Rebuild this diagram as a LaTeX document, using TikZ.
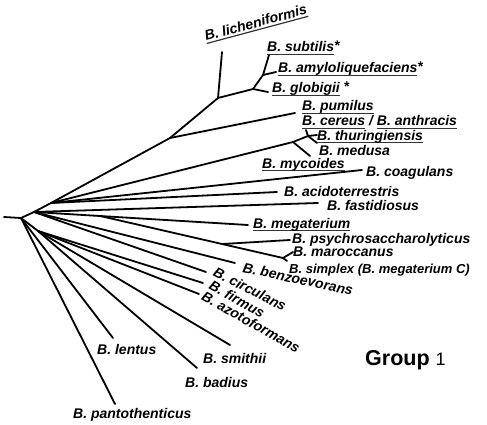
\documentclass[tikz,border=0pt]{standalone}
\usepackage{fontspec}
\setmainfont{Liberation Sans}
\usetikzlibrary{calc}
\newsavebox\ulbox
\newcommand\ulx[1]{\sbox\ulbox{#1}\rlap{\raisebox{-3.2pt}{\color{black!80}\rule{\wd\ulbox}{1.2pt}}}\usebox\ulbox}
\begin{document}
\begin{tikzpicture}[x=1pt,y=-1pt,
  br/.style={line width=1.8pt, line cap=round, line join=round},
  lab/.style={font=\fontsize{14}{16}\selectfont\bfseries\itshape, inner sep=0pt, anchor=base west},
  rlab/.style={font=\fontsize{14}{16}\selectfont\bfseries\itshape, inner sep=0pt, anchor=center}]
\useasboundingbox (0,0) rectangle (487,425);
% internal nodes
\coordinate (S) at (4,217);
\coordinate (R) at (21,218);
\coordinate (M) at (34,212);
\coordinate (G) at (51,203);
\coordinate (H) at (38,231);
\coordinate (F) at (170,138);
\coordinate (A) at (218,98);
\coordinate (Bn) at (253,89);
\coordinate (C) at (263,75);
\coordinate (E) at (293,142);
\coordinate (D) at (308,136);
\coordinate (MR) at (283,258);
% leaves
\coordinate (lich) at (222,52);
\coordinate (subt) at (269,55);
\coordinate (amylo) at (276,72);
\coordinate (glob) at (268,92);
\coordinate (pum) at (295,113);
\coordinate (cer) at (306,130);
\coordinate (thu) at (317,135);
\coordinate (med) at (317,143);
\coordinate (myc) at (310,156);
\coordinate (coag) at (362,170);
\coordinate (acido) at (277,192);
\coordinate (fast) at (318,203);
\coordinate (mega) at (248,225);
\coordinate (N1) at ($(M)!0.31!(mega)$);
\coordinate (P) at ($(N1)!0.667!(MR)$);
\coordinate (psy) at (290,240);
\coordinate (maro) at (293,252);
\coordinate (simp) at (287,261);
\coordinate (benzo) at (235,263);
\coordinate (circ) at (206,272);
\coordinate (firm) at (203,283);
\coordinate (azo) at (199,294);
\coordinate (smith) at (230,345);
\coordinate (badius) at (197,368);
\coordinate (lentus) at (113,338);
\coordinate (panto) at (115,404);
% branches
\draw[br] (S) -- (R);
\draw[br] (R) -- (M);
\draw[br] (M) -- (G);
\draw[br] (G) -- (F);
\draw[br] (F) -- (A);
\draw[br] (A) -- (lich);
\draw[br] (A) -- (Bn);
\draw[br] (Bn) -- (C);
\draw[br] (C) -- (subt);
\draw[br] (C) -- (amylo);
\draw[br] (Bn) -- (glob);
\draw[br] (F) -- (pum);
\draw[br] (G) -- (E);
\draw[br] (E) -- (D);
\draw[br] (D) -- (cer);
\draw[br] (D) -- (thu);
\draw[br] (D) -- (med);
\draw[br] (E) -- (myc);
\draw[br] (G) -- (coag);
\draw[br] (G) -- (acido);
\draw[br] (M) -- (fast);
\draw[br] (M) -- (N1);
\draw[br] (N1) -- (mega);
\draw[br] (N1) -- (MR);
\draw[br] (P) -- (psy);
\draw[br] (MR) -- (maro);
\draw[br] (MR) -- (simp);
\draw[br] (M) -- (benzo);
\draw[br] (M) -- (circ);
\draw[br] (R) -- (H);
\draw[br] (H) -- (firm);
\draw[br] (H) -- (azo);
\draw[br] (H) -- (smith);
\draw[br] (H) -- (badius);
\draw[br] (R) -- (lentus);
\draw[br] (R) -- (panto);
% labels
\node[rlab, rotate=15] (Llich) at (256,24) {\ulx{B. licheniformis}};
\node[lab] (Lsub) at (267,52) {\ulx{B. subtilis}\raisebox{1.5pt}{*}};
\node[lab] (Lamy) at (278,73) {\ulx{B. amyloliquefaciens}\raisebox{1.5pt}{*}};
\node[lab] (Lglob) at (272,93) {\ulx{B. globigii} \raisebox{1.5pt}{*}};
\node[lab] (Lpum) at (302,111) {\ulx{B. pumilus}};
\node[lab] (Lcer) at (302,126) {\ulx{B. cereus} / \ulx{B. anthracis}};
\node[lab] (Lthu) at (317,140) {\ulx{B. thuringiensis}};
\node[lab] (Lmed) at (319,155) {B. medusa};
\node[lab] (Lmyc) at (262,168) {\ulx{B. mycoides}};
\node[lab] (Lcoag) at (366,176) {B. coagulans};
\node[lab] (Lacido) at (284,196) {B. acidoterrestris};
\node[lab] (Lfast) at (327,210) {B. fastidiosus};
\node[lab] (Lmega) at (253,228) {\ulx{B. megaterium}};
\node[lab] (Lpsy) at (292,243) {B. psychrosaccharolyticus};
\node[lab] (Lmaro) at (293,256) {B. maroccanus};
\node[lab, font=\fontsize{13}{15}\selectfont\bfseries\itshape] (Lsimp) at (289,273) {B. simplex (B. megaterium C)};
\node[rlab, rotate=-12] (Lbenzo) at (298,279) {B. benzoevorans};
\node[rlab, rotate=-27] (Lcirc) at (250,289) {B. circulans};
\node[rlab, rotate=-29] (Lfirm) at (237,299) {B. firmus};
\node[rlab, rotate=-29] (Lazo) at (251,322) {B. azotoformans};
\node[lab] (Llent) at (97,354) {B. lentus};
\node[lab] (Lsmith) at (203,363) {B. smithii};
\node[lab] (Lbad) at (185,387) {B. badius};
\node[lab] (Lpanto) at (73,418) {B. pantothenticus};
\node[inner sep=0pt, anchor=base west] (grp) at (365,365) {{\fontsize{21.5}{24}\selectfont\bfseries Group }{\fontsize{18}{20}\selectfont 1}};
\end{tikzpicture}
\end{document}
